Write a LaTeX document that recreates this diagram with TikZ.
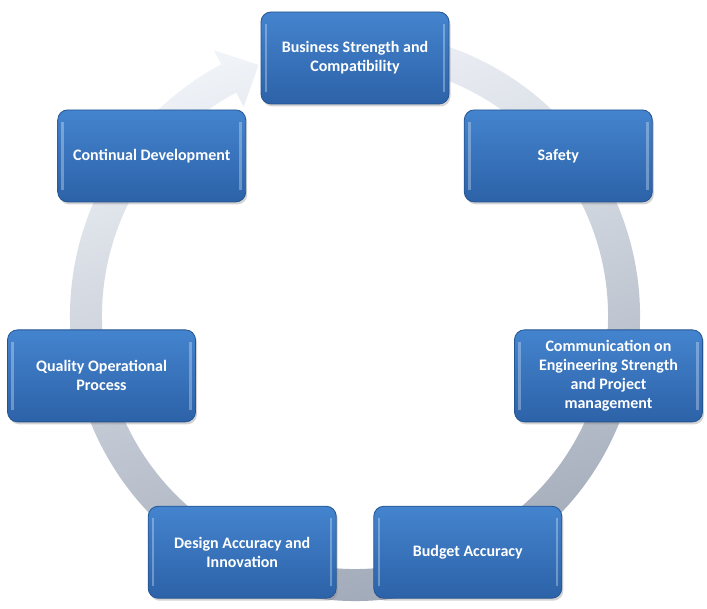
\documentclass[tikz,border=0pt]{standalone}
\usepackage{fontspec}
\setmainfont{Carlito}
\usetikzlibrary{calc,shadows}

\definecolor{boxtop}{RGB}{68,132,206}
\definecolor{boxbot}{RGB}{44,98,168}
\definecolor{boxedge}{RGB}{36,84,146}
\definecolor{ringtop}{RGB}{240,243,248}
\definecolor{ringbot}{RGB}{158,167,182}

\tikzset{
  stage/.style={rectangle, rounded corners=10pt, draw=boxedge, thick,
    top color=boxtop, bottom color=boxbot, minimum width=188pt, minimum height=92pt,
    align=center, text=white, font=\bfseries\fontsize{16}{19}\selectfont,
    drop shadow={shadow xshift=1.5pt, shadow yshift=-2.5pt, opacity=.35},
    path picture={
      \draw[white, opacity=.3, line width=2.5pt]
        ([xshift=5pt,yshift=-12pt]path picture bounding box.north west) --
        ([xshift=5pt,yshift=12pt]path picture bounding box.south west);
      \draw[white, opacity=.3, line width=2.5pt]
        ([xshift=-5pt,yshift=-12pt]path picture bounding box.north east) --
        ([xshift=-5pt,yshift=12pt]path picture bounding box.south east);}},
  ring/.style={top color=ringtop, bottom color=ringbot, shading angle=15, draw=none}
}

\begin{document}
\begin{tikzpicture}[x=1pt,y=1pt]
    \useasboundingbox (0,0) rectangle (707,608);
    \coordinate (c) at (355,290);   % centre of the stages
    \coordinate (o) at (355,292);   % centre of the ring

    % circular arrow behind the stages
    \shade[ring] ($(o)+(80:285)$) arc[start angle=80, end angle=-242, radius=285]
        -- ($(o)+(118:301)$) -- ($(o)+(111:269)$) -- ($(o)+(118:237)$)
        -- ($(o)+(118:253)$) arc[start angle=-242, end angle=80, radius=253] -- cycle;

    % stages, clockwise from the top
    \node[stage] (biz)     at ($(c)+(90:260)$)      {Business Strength and\\Compatibility};
    \node[stage] (safety)  at ($(c)+(38.57:260)$)   {Safety};
    \node[stage] (comm)    at ($(c)+(-12.86:260)$)  {Communication on\\Engineering Strength\\and Project\\management};
    \node[stage] (budget)  at ($(c)+(-64.29:260)$)  {Budget Accuracy};
    \node[stage] (design)  at ($(c)+(-115.71:260)$) {Design Accuracy and\\Innovation};
    \node[stage] (quality) at ($(c)+(-167.14:260)$) {Quality Operational\\Process};
    \node[stage] (contdev) at ($(c)+(141.43:260)$)  {Continual Development};
\end{tikzpicture}
\end{document}
